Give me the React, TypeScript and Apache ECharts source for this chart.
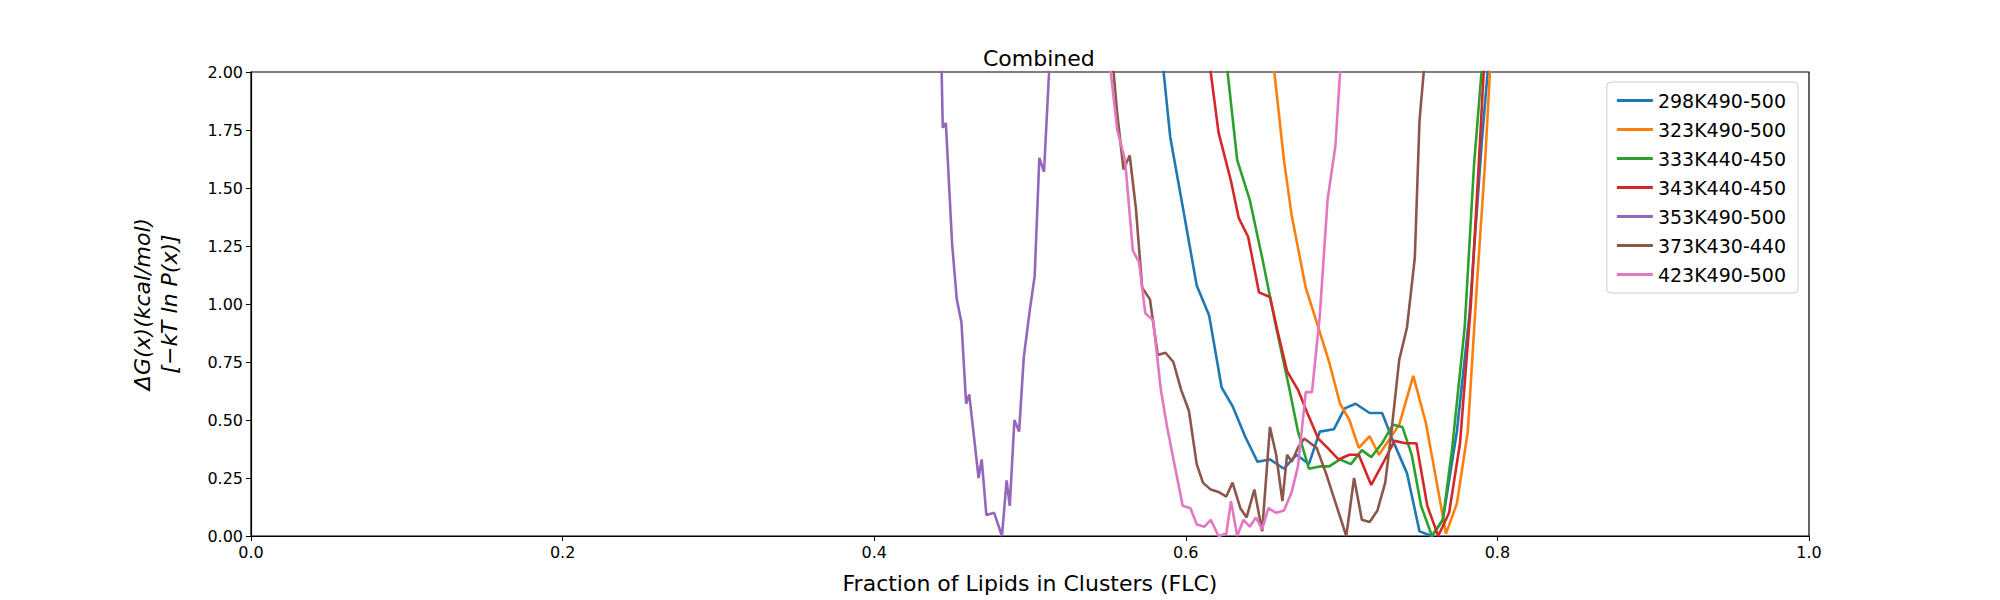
import * as echarts from "echarts"
import { useEffect, useRef } from "react"

const seriesNames = ["298K490-500", "323K490-500", "333K440-450", "343K440-450", "353K490-500", "373K430-440", "423K490-500"]
const colors = ["#1f77b4", "#ff7f0e", "#2ca02c", "#d62728", "#9467bd", "#8c564b", "#e377c2"]

const s298 = [
  [0.585, 2.05], [0.59, 1.72], [0.598, 1.42], [0.607, 1.08], [0.615, 0.95], [0.623, 0.64], [0.63, 0.56], [0.638, 0.43],
  [0.646, 0.32], [0.654, 0.33], [0.663, 0.29], [0.671, 0.35], [0.679, 0.31], [0.686, 0.45], [0.695, 0.46], [0.702, 0.55],
  [0.709, 0.57], [0.718, 0.53], [0.726, 0.53], [0.733, 0.41], [0.742, 0.27], [0.75, 0.02], [0.758, 0.0], [0.765, 0.07],
  [0.774, 0.45], [0.782, 0.95], [0.79, 1.7], [0.795, 2.1],
]
const s323 = [
  [0.656, 2.05], [0.663, 1.62], [0.668, 1.38], [0.677, 1.07], [0.685, 0.9], [0.692, 0.75], [0.699, 0.57], [0.705, 0.5],
  [0.711, 0.38], [0.718, 0.43], [0.724, 0.35], [0.731, 0.42], [0.737, 0.48], [0.746, 0.69], [0.754, 0.49], [0.76, 0.27],
  [0.767, 0.01], [0.774, 0.14], [0.781, 0.45], [0.787, 1.1], [0.792, 1.6], [0.796, 2.1],
]
const s333 = [
  [0.626, 2.05], [0.633, 1.62], [0.641, 1.45], [0.649, 1.2], [0.658, 0.9], [0.666, 0.65], [0.672, 0.45], [0.679, 0.29],
  [0.686, 0.3], [0.692, 0.3], [0.699, 0.33], [0.706, 0.31], [0.713, 0.37], [0.719, 0.34], [0.726, 0.4], [0.733, 0.48],
  [0.739, 0.47], [0.745, 0.35], [0.751, 0.13], [0.758, 0.0], [0.765, 0.07], [0.771, 0.38], [0.779, 0.9], [0.785, 1.6],
  [0.791, 2.1],
]
const s343 = [
  [0.615, 2.05], [0.621, 1.74], [0.629, 1.53], [0.634, 1.37], [0.64, 1.29], [0.647, 1.05], [0.654, 1.03], [0.659, 0.88],
  [0.665, 0.71], [0.672, 0.63], [0.678, 0.53], [0.685, 0.42], [0.691, 0.38], [0.698, 0.33], [0.705, 0.35], [0.711, 0.35],
  [0.719, 0.22], [0.727, 0.32], [0.734, 0.41], [0.741, 0.4], [0.748, 0.4], [0.755, 0.13], [0.762, 0.0], [0.769, 0.1],
  [0.776, 0.4], [0.783, 1.0], [0.788, 1.6], [0.792, 2.1],
]
const s353 = [
  [0.443, 2.1], [0.444, 1.76], [0.446, 1.78], [0.45, 1.26], [0.453, 1.02], [0.456, 0.92], [0.459, 0.57], [0.461, 0.61],
  [0.467, 0.25], [0.469, 0.33], [0.472, 0.09], [0.477, 0.1], [0.482, 0.0], [0.485, 0.24], [0.487, 0.13], [0.49, 0.5],
  [0.493, 0.45], [0.496, 0.77], [0.5, 0.98], [0.503, 1.12], [0.506, 1.63], [0.509, 1.57], [0.513, 2.1],
]
const s373 = [
  [0.553, 2.05], [0.556, 1.82], [0.56, 1.58], [0.564, 1.64], [0.568, 1.41], [0.572, 1.07], [0.577, 1.02], [0.582, 0.78],
  [0.587, 0.79], [0.592, 0.75], [0.597, 0.63], [0.602, 0.54], [0.607, 0.31], [0.611, 0.23], [0.616, 0.2], [0.621, 0.19],
  [0.626, 0.17], [0.63, 0.23], [0.635, 0.12], [0.639, 0.08], [0.644, 0.2], [0.649, 0.02], [0.654, 0.47], [0.658, 0.35],
  [0.662, 0.15], [0.665, 0.35], [0.668, 0.32], [0.672, 0.38], [0.676, 0.42], [0.68, 0.4], [0.684, 0.38], [0.69, 0.27],
  [0.703, 0.0], [0.708, 0.25], [0.713, 0.07], [0.718, 0.06], [0.723, 0.11], [0.728, 0.23], [0.732, 0.45], [0.737, 0.76],
  [0.742, 0.9], [0.747, 1.2], [0.75, 1.79], [0.754, 2.1],
]
const s423 = [
  [0.551, 2.05], [0.556, 1.75], [0.561, 1.62], [0.566, 1.23], [0.57, 1.18], [0.574, 0.96], [0.579, 0.93], [0.584, 0.63],
  [0.588, 0.47], [0.593, 0.3], [0.598, 0.13], [0.603, 0.12], [0.607, 0.05], [0.612, 0.04], [0.616, 0.07], [0.621, 0.0],
  [0.626, 0.01], [0.629, 0.15], [0.633, 0.0], [0.637, 0.07], [0.641, 0.04], [0.645, 0.08], [0.649, 0.03], [0.653, 0.12],
  [0.658, 0.1], [0.663, 0.11], [0.668, 0.19], [0.672, 0.3], [0.677, 0.62], [0.681, 0.62], [0.686, 0.95], [0.691, 1.45],
  [0.696, 1.68], [0.7, 2.1],
]
const allSeries = [s298, s323, s333, s343, s353, s373, s423]

export default function App() {
  const ref = useRef<HTMLDivElement>(null)

  useEffect(() => {
    if (!ref.current) return
    document.body.style.margin = "0"
    const chart = echarts.init(ref.current, null, { renderer: "svg" })
    const font = "DejaVu Sans"
    const axisCommon = {
      axisLine: { show: true, lineStyle: { color: "#000", width: 1.2 } },
      axisTick: { show: true, length: 5, lineStyle: { color: "#000" } },
      splitLine: { show: false },
    }
    chart.setOption({
      animation: false,
      textStyle: { fontFamily: font },
      title: {
        text: "Combined",
        left: 978,
        top: 42,
        textStyle: { fontFamily: font, fontSize: 22, fontWeight: "normal", color: "#000" },
      },
      grid: { left: 251, right: 191, top: 72, bottom: 64, show: true, borderColor: "#000", borderWidth: 1.2, backgroundColor: "transparent" },
      legend: {
        orient: "vertical",
        right: 202,
        top: 82,
        itemGap: 10,
        itemWidth: 36,
        itemHeight: 3,
        icon: "rect",
        padding: [9, 12, 9, 10],
        borderColor: "#ccc",
        borderWidth: 1,
        borderRadius: 4,
        textStyle: { fontFamily: font, fontSize: 19, color: "#000", lineHeight: 19 },
        data: seriesNames,
      },
      xAxis: {
        type: "value", min: 0, max: 1, interval: 0.2,
        name: "Fraction of Lipids in Clusters (FLC)",
        nameLocation: "middle", nameGap: 36,
        nameTextStyle: { fontFamily: font, fontSize: 22, color: "#000" },
        axisLabel: { color: "#000", fontSize: 16, formatter: (v: number) => v.toFixed(1) },
        ...axisCommon,
      },
      yAxis: {
        type: "value", min: 0, max: 2, interval: 0.25,
        name: "ΔG(x)(kcal/mol)\n[−kT ln P(x)]",
        nameLocation: "middle", nameGap: 68, nameRotate: 90,
        nameTextStyle: { fontFamily: font, fontSize: 22, color: "#000", fontStyle: "italic", lineHeight: 27 },
        axisLabel: { color: "#000", fontSize: 16, formatter: (v: number) => v.toFixed(2) },
        ...axisCommon,
      },
      series: allSeries.map((d, i) => ({
        name: seriesNames[i],
        type: "line",
        data: d,
        showSymbol: false,
        symbol: "none",
        clip: true,
        lineStyle: { color: colors[i], width: 2.6 },
        itemStyle: { color: colors[i] },
      })),
    })
    return () => chart.dispose()
  }, [])

  return <div ref={ref} style={{ width: 2000, height: 600 }} />
}
